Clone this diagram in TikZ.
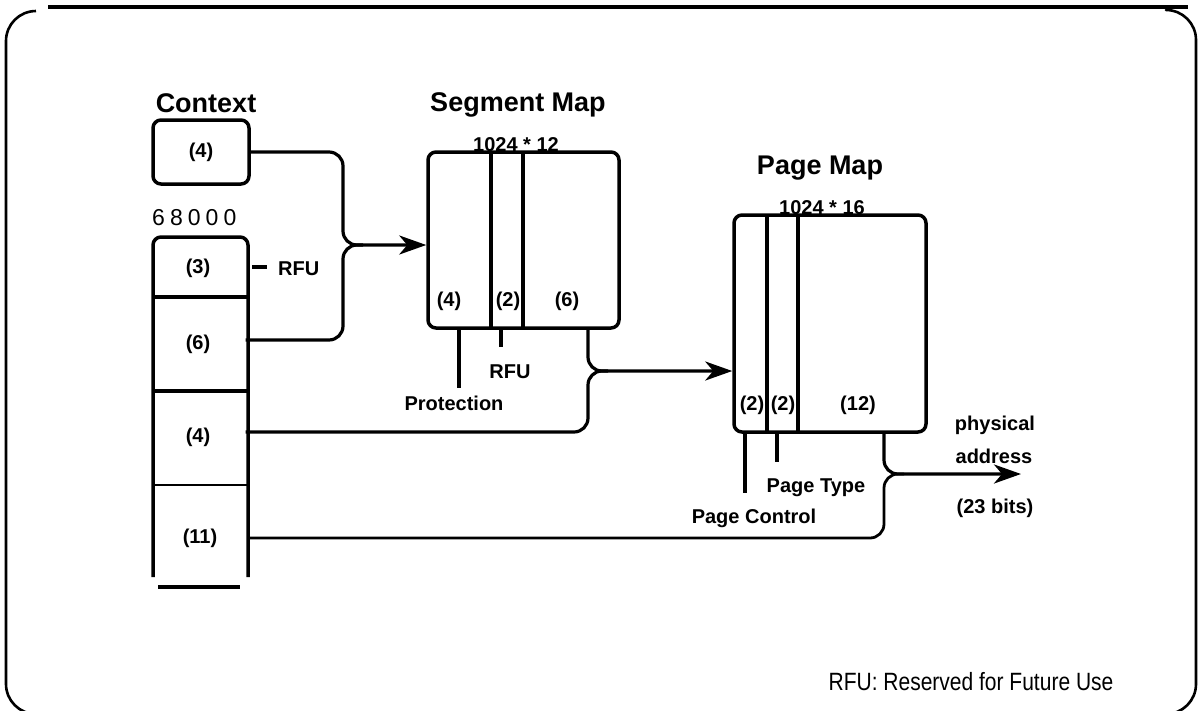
\documentclass[tikz,border=0pt]{standalone}
\usepackage{fontspec}
\setmainfont{Liberation Sans}
\usetikzlibrary{arrows.meta,calc}
\begin{document}
\begin{tikzpicture}[x=1pt,y=-1pt,line join=round,
  ln/.style={line width=3.2pt},
  conn/.style={line width=3.2pt,rounded corners=14pt},
  tip/.style={-{Stealth[length=27pt,width=19pt,inset=8pt]}},
  lab/.style={font=\bfseries\fontsize{20}{24}\selectfont,inner sep=0pt},
  head/.style={font=\bfseries\fontsize{27}{31}\selectfont,inner sep=0pt},
  cell/.style={draw=none,minimum width=95pt,inner sep=0pt,font=\bfseries\fontsize{20}{24}\selectfont},
  mapbox/.style={draw,line width=3.5pt,rounded corners=8pt,inner sep=0pt}]
\useasboundingbox (0,0) rectangle (1199,710);
% frame
\draw[line width=2.6pt,rounded corners=30pt] (36,11) -- (6,11) -- (6,714) -- (1196,714) -- (1196,10) -- (1172,10);
\draw[line width=4.5pt] (48,7) -- (1188,7);
% headings
\node[head] (hctx) at (206,103) {Context};
\node[head] (hsm) at (518,105) {Segment Map};
\node[head] (hpm) at (820,168) {Page Map};
% context box
\node[mapbox,minimum width=96pt,minimum height=64pt,font=\bfseries\fontsize{20}{24}\selectfont] (ctx) at (201,152) {(4)};
% 68000 column
\node[anchor=west,inner sep=0pt,font=\fontsize{23}{26}\selectfont\addfontfeature{LetterSpace=22}] (n68) at (152,218) {68000};
\draw[line width=3.5pt,rounded corners=8pt] (153,577) -- (153,237) -- (248,237) -- (248,577);
\draw[line width=3.5pt] (153,297) -- (248,297) (153,391) -- (248,391);
\draw[line width=2.6pt] (153,485) -- (248,485);
\draw[line width=4.5pt] (158,587) -- (240,587);
\node[cell,minimum height=60pt] (c3) at (198,268) {(3)};
\node[cell,minimum height=94pt] (c6) at (198,344) {(6)};
\node[cell,minimum height=94pt] (c4) at (198,437) {(4)};
\node[cell,minimum height=92pt] (c11) at (200,538) {(11)};
\coordinate (rfutick) at (267,267);
\draw[ln] (252,267) -- (rfutick);
\node[lab,anchor=west] (rfu1) at (278,269) {RFU};
% segment map
\node[mapbox,minimum width=191pt,minimum height=176pt] (sm) at (523.5,240) {};
\draw[line width=3.5pt] (491,152) -- (491,328) (523,152) -- (523,328);
\node[lab,anchor=base] (sms) at (516,151) {1024 * 12};
\node[lab] (sm4) at (449,301) {(4)};
\node[lab] (sm2) at (508,301) {(2)};
\node[lab] (sm6) at (567,301) {(6)};
\draw[line width=4pt] (459,328) -- (459,388);
\draw[ln] (501,328) -- (501,347);
\node[lab] (rfu2) at (510,372) {RFU};
\node[lab] (prot) at (454,403) {Protection};
% page map
\node[mapbox,minimum width=192pt,minimum height=217pt] (pm) at (830,323.5) {};
\draw[line width=3.5pt] (767,215) -- (767,432) (798,215) -- (798,432);
\node[lab,anchor=base] (pms) at (822,214) {1024 * 16};
\node[lab] (pm2a) at (752,405) {(2)};
\node[lab] (pm2b) at (783,405) {(2)};
\node[lab] (pm12) at (858,405) {(12)};
\draw[ln] (745,432) -- (745,493);
\draw[ln] (777,432) -- (777,462);
\node[lab] (ptype) at (816,488) {Page Type};
\node[lab] (pctl) at (754,518) {Page Control};
% physical address
\node[lab] (phys) at (995,425) {physical};
\node[lab] (addr) at (994,456) {address};
\node[lab] (bits) at (995,508) {(23 bits)};
% junctions
\coordinate (j1) at (343,245);
\coordinate (j2) at (588,371);
\coordinate (j3) at (884,474);
\coordinate (pa) at (1021,474);
% connectors
\draw[conn] ([yshift=4pt]c6.east) -| (j1) -- ($(j1)+(20,0)$);
\draw[conn,tip] (ctx.east) -| (j1) -- (sm.west |- j1);
\draw[conn] ([yshift=5pt]c4.east) -| (j2) -- ($(j2)+(20,0)$);
\draw[conn,tip] (sm.south -| j2) -- (j2) -- (pm.west |- j2);
\draw[conn,line width=2.8pt] (c11.east) -| (j3) -- ($(j3)+(20,0)$);
\draw[conn,tip] (pm.south -| j3) -- (j3) -- (pa);
% note
\node[inner sep=0pt,font=\fontsize{25}{28}\selectfont] (note) at (971,682) {\scalebox{0.84}[1]{RFU: Reserved for Future Use}};
\end{tikzpicture}
\end{document}
